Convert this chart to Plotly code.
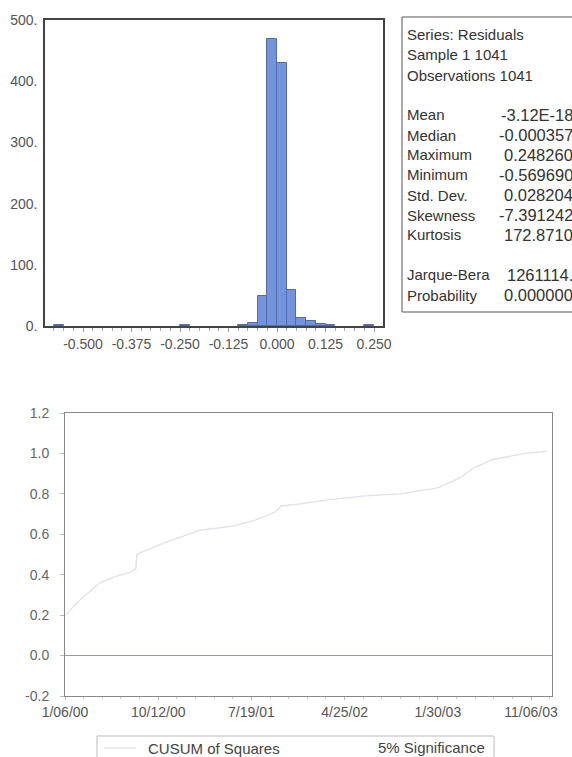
import plotly.graph_objects as go

# ---------------- data ----------------
bin_centers = [-0.5625, -0.2375, -0.0875, -0.0625, -0.0375, -0.0125, 0.0125,
               0.0375, 0.0625, 0.0875, 0.1125, 0.1375, 0.2375]
bin_counts = [1, 1, 2, 5, 49, 469, 429, 59, 13, 8, 3, 1, 1]
bin_width = 0.025

hist_xticks = [-0.5, -0.375, -0.25, -0.125, 0.0, 0.125, 0.25]
hist_xticktext = ["-0.500", "-0.375", "-0.250", "-0.125", "0.000", "0.125", "0.250"]
hist_yticks = [0, 100, 200, 300, 400, 500]
hist_yticktext = ["0.", "100.", "200.", "300.", "400.", "500."]

stats_header = ["Series: Residuals", "Sample 1 1041", "Observations 1041"]
stats_labels = ["Mean", "Median", "Maximum", "Minimum", "Std. Dev.", "Skewness", "Kurtosis"]
stats_values = ["-3.12E-18", "-0.000357", "0.248260", "-0.569690", "0.028204", "-7.391242", "172.8710"]
test_labels = ["Jarque-Bera", "Probability"]
test_values = ["1261114.", "0.000000"]

cusum_obs = [2, 21, 39, 75, 107, 139, 152, 154, 204, 251, 290, 360, 408, 451, 464,
             504, 564, 644, 719, 800, 848, 878, 918, 987, 1034]
cusum_val = [0.20, 0.25, 0.29, 0.36, 0.39, 0.41, 0.43, 0.50, 0.55, 0.59, 0.62, 0.64,
             0.67, 0.71, 0.74, 0.75, 0.77, 0.79, 0.80, 0.83, 0.88, 0.93, 0.97, 1.00, 1.01]
date_tickvals = [0, 200, 400, 600, 800, 1000]
date_ticktext = ["1/06/00", "10/12/00", "7/19/01", "4/25/02", "1/30/03", "11/06/03"]
cusum_yticks = [-0.2, 0.0, 0.2, 0.4, 0.6, 0.8, 1.0, 1.2]
cusum_yticktext = ["-0.2", "0.0", "0.2", "0.4", "0.6", "0.8", "1.0", "1.2"]
legend_names = ["CUSUM of Squares", "5% Significance"]

# ---------------- layout helpers ----------------
W, H = 572, 757
def px(x):
    return x / W
def py(y):
    return 1 - y / H

FONT = "Liberation Sans, Arial, sans-serif"

fig = go.Figure()

fig.add_trace(go.Bar(
    x=bin_centers, y=bin_counts, width=bin_width,
    marker=dict(color="#7393dd", line=dict(color="#556aa8", width=1)),
    xaxis="x", yaxis="y", showlegend=False,
))

fig.add_trace(go.Scatter(
    x=cusum_obs, y=cusum_val, mode="lines",
    line=dict(color="#e0e0ec", width=1.3),
    xaxis="x2", yaxis="y2", showlegend=False,
))

fig.update_layout(
    template="none",
    width=W, height=H,
    margin=dict(l=0, r=0, t=0, b=0, autoexpand=False),
    paper_bgcolor="white", plot_bgcolor="white",
    font=dict(family=FONT, color="#555555"),
    bargap=0,
    xaxis=dict(
        domain=[px(45), px(383)], anchor="y", automargin=False,
        range=[-0.598, 0.273],
        tickvals=hist_xticks, ticktext=hist_xticktext,
        tickfont=dict(size=14, color="#555555"),
        ticks="outside", ticklen=4, tickcolor="#999999", tickwidth=1,
        minor=dict(tick0=0, dtick=0.025, ticks="outside", ticklen=3, tickcolor="#aaaaaa"),
        showgrid=False, zeroline=False,
        showline=True, linecolor="#444444", linewidth=1.5, mirror=True,
    ),
    yaxis=dict(
        domain=[py(326), py(20)], anchor="x", automargin=False,
        range=[0, 500],
        tickvals=hist_yticks, ticktext=hist_yticktext,
        tickfont=dict(size=14, color="#555555"),
        ticks="", ticklabelstandoff=3,
        showgrid=False, zeroline=False,
        showline=True, linecolor="#444444", linewidth=1.5, mirror=True,
    ),
    xaxis2=dict(
        domain=[px(65), px(552)], anchor="y2", automargin=False,
        range=[0, 1045],
        tickvals=date_tickvals, ticktext=date_ticktext,
        tickfont=dict(size=14, color="#555555"),
        ticks="outside", ticklen=3, tickcolor="#bbbbbb", tickwidth=1,
        minor=dict(tick0=0, dtick=40, ticks="outside", ticklen=2, tickcolor="#cccccc"),
        showgrid=False, zeroline=False,
        showline=True, linecolor="#888888", linewidth=1, mirror=True,
    ),
    yaxis2=dict(
        domain=[py(696), py(413)], anchor="x2", automargin=False,
        range=[-0.2, 1.2],
        tickvals=cusum_yticks, ticktext=cusum_yticktext,
        tickfont=dict(size=14, color="#666666"),
        ticks="outside", ticklen=4, tickcolor="#bbbbbb", tickwidth=1,
        ticklabelstandoff=8,
        showgrid=False,
        zeroline=True, zerolinecolor="#9a9aa6", zerolinewidth=1,
        showline=True, linecolor="#888888", linewidth=1, mirror=True,
    ),
)

shapes = []
annotations = []

# statistics box
box_top, box_bottom, box_left = 17, 312, 402
shapes.append(dict(type="rect", xref="paper", yref="paper",
                   x0=px(box_left), x1=px(600), y0=py(box_bottom), y1=py(box_top),
                   line=dict(color="#555555", width=1), fillcolor="rgba(0,0,0,0)"))

row = 20
y0 = 35
LFONT = dict(size=15, color="#333333")
VFONT = dict(size=16.5, color="#333333")
for i, t in enumerate(stats_header):
    annotations.append(dict(text=t, x=px(405), y=py(y0 + i * row), xref="paper", yref="paper",
                            xanchor="left", yanchor="middle", showarrow=False, font=LFONT))
start = y0 + 4 * row
for i, (l, v) in enumerate(zip(stats_labels, stats_values)):
    yy = start + i * row
    annotations.append(dict(text=l, x=px(405), y=py(yy), xref="paper", yref="paper",
                            xanchor="left", yanchor="middle", showarrow=False, font=LFONT))
    annotations.append(dict(text=v, x=px(575), y=py(yy), xref="paper", yref="paper",
                            xanchor="right", yanchor="middle", showarrow=False, font=VFONT))
start2 = start + (len(stats_labels) + 1) * row
for i, (l, v) in enumerate(zip(test_labels, test_values)):
    yy = start2 + i * row
    annotations.append(dict(text=l, x=px(405), y=py(yy), xref="paper", yref="paper",
                            xanchor="left", yanchor="middle", showarrow=False, font=LFONT))
    annotations.append(dict(text=v, x=px(575), y=py(yy), xref="paper", yref="paper",
                            xanchor="right", yanchor="middle", showarrow=False, font=VFONT))

# legend box for CUSUM chart
shapes.append(dict(type="rect", xref="paper", yref="paper",
                   x0=px(97), x1=px(494), y0=py(770), y1=py(736),
                   line=dict(color="#bbbbbb", width=1), fillcolor="rgba(0,0,0,0)"))
shapes.append(dict(type="line", xref="paper", yref="paper",
                   x0=px(104), x1=px(136), y0=py(748), y1=py(748),
                   line=dict(color="#e0e0ec", width=1.3)))
annotations.append(dict(text=legend_names[0], x=px(214), y=py(748), xref="paper", yref="paper",
                        xanchor="center", yanchor="middle", showarrow=False,
                        font=dict(size=15, color="#444444")))
annotations.append(dict(text=legend_names[1], x=px(431), y=py(747), xref="paper", yref="paper",
                        xanchor="center", yanchor="middle", showarrow=False,
                        font=dict(size=15, color="#444444")))

fig.update_layout(shapes=shapes, annotations=annotations)

fig.write_html("out.html")
